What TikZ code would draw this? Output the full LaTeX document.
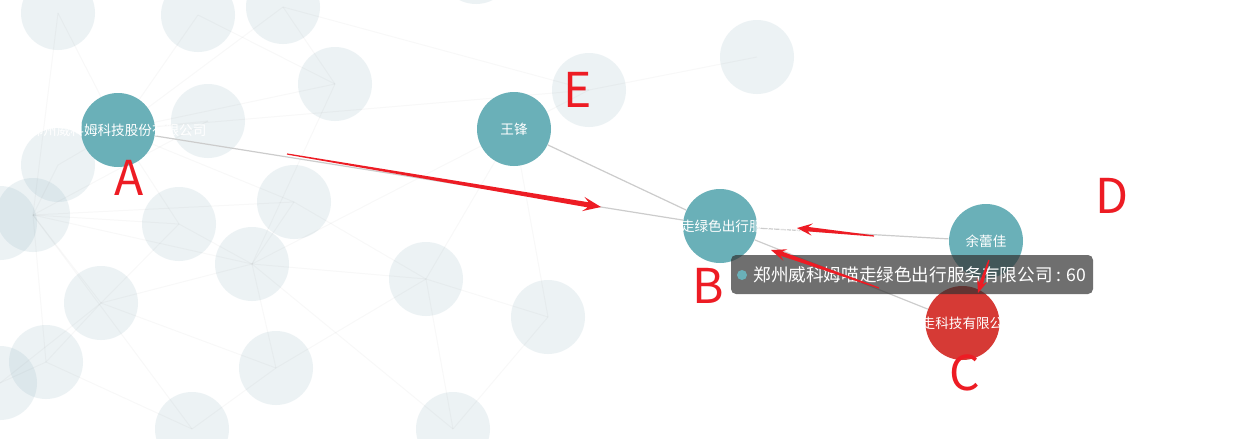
\documentclass[tikz,border=0pt]{standalone}
\usepackage{fontspec}
\newfontfamily\cjk{Noto Sans CJK SC}
\usepackage{tikz}
\usetikzlibrary{calc}

\definecolor{nodeteal}{HTML}{6AB0B8}
\definecolor{bgtint}{HTML}{7FA8B8}
\definecolor{nodered}{HTML}{D63A35}
\definecolor{markred}{HTML}{ED1C24}
\definecolor{tipgray}{RGB}{50,50,50}

\tikzset{
  bgnode/.style={circle, fill=bgtint, fill opacity=0.14, minimum size=37pt, inner sep=0},
  mainnode/.style={circle, fill=#1, minimum size=37pt, inner sep=0},
  namelabel/.style={text=white, inner sep=0, font=\cjk\fontsize{6.8}{7}\selectfont},
  faintline/.style={draw=black!60, opacity=0.045, line width=0.5pt},
  linkline/.style={draw=black!20, line width=0.6pt},
  marker/.style={text=markred, inner sep=0, font=\cjk\fontsize{24}{24}\selectfont}
}

\begin{document}
\begin{tikzpicture}[x=0.5pt, y=-0.5pt]
	\useasboundingbox (0,0) rectangle (1259,439);
	\clip (0,0) rectangle (1259,439);
	\fill[white] (0,0) rectangle (1259,439);
	\coordinate (pA) at (118,130);
	\coordinate (pE) at (514,129);
	\foreach \n/\x/\y in {b1/58/13, b2/198/15, b3/283/7, b4/335/84, b5/208/121, b6/58/165,
		b7/33/215, b8/0/223, b9/179/224, b10/294/202, b11/252/264, b12/426/279, b13/548/317,
		b14/589/90, b15/101/303, b16/46/362, b17/276/368, b18/192/429, b19/453/429,
		b20/0/383, b21/757/57, b22/476/-33} {
		\node[bgnode] (\n) at (\x,\y) {};
	}
	\foreach \a/\b in {b7/b9, b7/b11, b7/b10, b7/b15, b7/b16, b7/b6, b7/b5, b7/b1, b7/b18,
		b11/b9, b11/b10, b11/b15, b11/b17, b11/b12, b11/pE, b11/b4, b11/b19,
		b15/b16, b15/b17, b15/b9, b15/b20, b12/b13, b12/b17, b12/b19, b12/b10, b12/pE,
		pA/b1, pA/b2, pA/b3, pA/b4, pA/b5, pA/b9, pA/b10, pA/b6, pA/b14,
		b14/b21, b14/pE, b14/b3, b13/b19, b13/pE, b2/b4, b3/b4, b16/b18, b17/b18, b16/b20} {
		\draw[faintline] (\a.center) -- (\b.center);
	}
	% graph nodes
	\node[mainnode=nodeteal] (A) at (pA) {};
	\node[mainnode=nodeteal] (E) at (pE) {};
	\node[mainnode=nodeteal] (B) at (720,226) {};
	\node[mainnode=nodeteal] (D) at (986,241) {};
	\node[mainnode=nodered] (C) at (962.5,323) {};
	\foreach \s in {A,E,D,C} {
		\draw[linkline] (\s) -- (B);
	}
	\node[namelabel] (labA) at (A) {郑州威科姆科技股份有限公司};
	\node[namelabel] (labE) at (E) {王锋};
	\node[namelabel, xshift=-2.5pt] (labB) at (B) {郑州威科姆喵走绿色出行服务有限公司};
	\node[namelabel] (labD) at (D) {余蕾佳};
	\node[namelabel] (labC) at (C) {喵走科技有限公司};
	% tooltip
	\node[fill=tipgray, fill opacity=0.7, rounded corners=2.5pt, minimum width=181pt, minimum height=19.5pt, inner sep=0] (tip) at (912,274.5) {};
	\node[circle, fill=nodeteal, minimum size=5pt, inner sep=0] (tipdot) at (742,275) {};
	\node[anchor=west, text=white, inner sep=0, font=\cjk\fontsize{8.8}{9}\selectfont] (tiptext) at (753,275) {郑州威科姆喵走绿色出行服务有限公司 : 60};
	% red marks
	\coordinate (t1) at (287,154); \coordinate (h1) at (601,207);
	\coordinate (t2) at (874,236); \coordinate (h2) at (797,228);
	\coordinate (t3) at (879,288); \coordinate (h3) at (771,250);
	\coordinate (t4) at (989,260); \coordinate (h4) at (978,293);
	\foreach \i/\s in {1/1, 2/0.85, 3/0.85, 4/0.75} {
		\pgfmathsetlengthmacro\hl{9pt*\s}
		\pgfmathsetlengthmacro\nl{6.5pt*\s}
		\pgfmathsetlengthmacro\hw{3.6pt*\s}
		\pgfmathsetlengthmacro\sw{1.3pt*\s}
		\coordinate (wing) at ($(h\i)!\hl!(t\i)$);
		\coordinate (neck) at ($(h\i)!\nl!(t\i)$);
		\fill[markred] ($(t\i)!0.3pt!90:(h\i)$) -- ($(neck)!\sw!90:(h\i)$) -- ($(wing)!\hw!90:(h\i)$) -- (h\i)
			-- ($(wing)!\hw!-90:(h\i)$) -- ($(neck)!\sw!-90:(h\i)$) -- ($(t\i)!0.3pt!-90:(h\i)$) -- cycle;
	}
	\node[marker] (mA) at (129,178) {A};
	\node[marker] (mE) at (578,90) {E};
	\node[marker] (mB) at (708,286) {B};
	\node[marker] (mD) at (1112,196) {D};
	\node[marker] (mC) at (965,373) {C};
\end{tikzpicture}
\end{document}
